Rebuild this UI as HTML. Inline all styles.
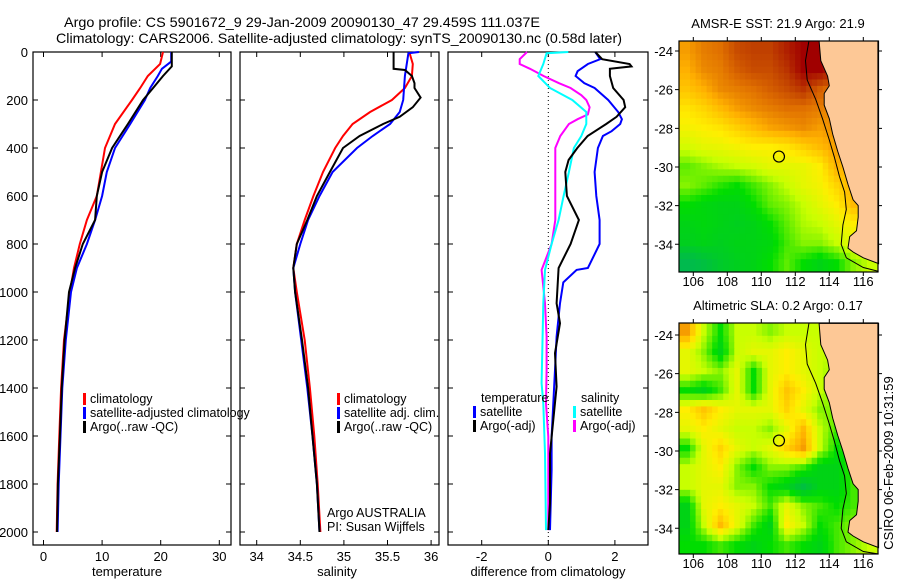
<!DOCTYPE html>
<html><head><meta charset="utf-8"><style>
html,body{margin:0;padding:0;background:#fff;}
svg{display:block;font-family:"Liberation Sans",sans-serif;}
</style></head><body>
<svg id="s" width="900" height="580" viewBox="0 0 900 580" xmlns="http://www.w3.org/2000/svg">
<text x="64" y="27" font-size="14" textLength="476" lengthAdjust="spacingAndGlyphs">Argo profile: CS 5901672_9 29-Jan-2009 20090130_47 29.459S 111.037E</text>
<text x="56" y="43" font-size="14" textLength="566" lengthAdjust="spacingAndGlyphs">Climatology: CARS2006. Satellite-adjusted climatology: synTS_20090130.nc (0.58d later)</text>
</svg>
<script>
// ---------- DATA ----------
const depthTop=[0,50,100,150,200,300,400,500,600,700,800,900,1000,1200,1400,1600,1800,2000];
const tempClim=[20.4,19.9,17.8,16.5,15.1,12.2,10.5,9.8,9.1,7.4,6.2,5.2,4.5,3.5,3.0,2.7,2.4,2.25];
const depthTB=[0,60,100,150,200,300,400,500,600,700,800,900,1000,1200,1400,1600,1800,2000];
const tempArgo=[21.9,21.9,20.4,18.7,17.0,14.4,11.7,10.0,9.1,8.8,6.7,5.4,4.35,3.6,3.1,2.8,2.45,2.3];
const depthTS=[0,40,70,100,150,200,300,400,500,600,700,800,900,1000,1200,1400,1600,1800,2000];
const tempSat=[21.8,21.8,20.2,19.5,18.2,17.3,14.8,12.2,10.8,10.0,8.8,7.4,5.7,4.7,3.8,3.2,2.9,2.6,2.4];

const depthSR=[0,50,100,150,200,250,300,350,400,500,600,700,800,900,1000,1200,1400,1600,1800,2000];
const salClim=[35.75,35.79,35.78,35.70,35.55,35.30,35.10,34.99,34.90,34.76,34.65,34.55,34.46,34.42,34.46,34.55,34.61,34.66,34.70,34.73];
const depthSB=[0,70,75,100,130,150,190,230,270,300,350,400,500,600,700,800,900,1000,1200,1400,1600,1800,2000];
const salArgo=[35.57,35.57,35.70,35.78,35.81,35.81,35.88,35.79,35.64,35.45,35.18,34.99,34.84,34.69,34.58,34.46,34.42,34.44,34.52,34.59,34.64,34.69,34.72];
const depthSS=[0,5,100,200,250,300,350,400,500,600,700,800,900,1000,1200,1400,1600,1800,2000];
const salSat=[35.86,35.74,35.70,35.68,35.64,35.53,35.33,35.15,34.87,34.72,34.59,34.50,34.42,34.44,34.51,34.58,34.64,34.69,34.72];

const depthDM=[0,30,50,70,100,130,150,180,200,230,260,280,300,350,400,500,600,700,800,908,1047,1186,1325,1464,1603,1992];
const diffSalArgo=[-0.64,-0.86,-0.86,-0.55,-0.14,0.32,0.67,0.99,1.14,1.24,1.19,0.88,0.62,0.36,0.21,0.21,0.21,0.21,0.1,-0.2,-0.1,-0.05,-0.05,-0.07,0,0];
const depthDC=[0,5,50,100,150,200,250,300,350,400,500,600,700,800,908,1047,1380,1464,1672,1992];
const diffSalSat=[0.6,-0.05,-0.15,-0.3,0.05,0.72,1.14,1.14,0.99,0.77,0.62,0.46,0.31,0.1,-0.1,-0.15,-0.2,-0.15,-0.1,-0.07];
const depthDB=[0,30,50,80,100,130,150,200,250,280,300,330,350,400,500,600,700,800,900,908,960,1047,1186,1325,1464,1603,1742,1992];
const diffTempSat=[1.41,1.56,1.19,0.88,0.82,1.08,1.39,1.8,2.1,2.21,2.16,1.9,1.64,1.49,1.39,1.44,1.54,1.54,1.19,0.85,0.45,0.35,0.25,0.2,0.15,0.1,0.1,0.05];
const depthDK=[0,30,50,60,70,100,150,200,230,270,300,350,400,450,500,600,700,800,900,1047,1130,1255,1394,1533,1672,1881,1992];
const diffTempArgo=[1.41,1.62,2.44,2.5,1.85,1.85,1.95,2.26,2.31,2.05,1.74,1.18,0.87,0.61,0.51,0.56,0.92,0.67,0.31,0.25,0.35,0.2,0.25,0.15,0.05,0.05,0];

const sstGrid=[
[0.75,0.8,0.82,0.88,0.9,0.9,0.95,1,1,1,1,1],
[0.72,0.78,0.8,0.85,0.88,0.88,0.92,1,1,0.95,0.9,0.9],
[0.68,0.72,0.78,0.8,0.82,0.85,0.88,0.92,0.85,0.8,0.8,0.8],
[0.62,0.65,0.7,0.75,0.78,0.8,0.82,0.82,0.8,0.78,0.78,0.78],
[0.58,0.6,0.62,0.66,0.7,0.74,0.76,0.78,0.75,0.78,0.78,0.78],
[0.52,0.55,0.56,0.58,0.6,0.6,0.62,0.66,0.7,0.75,0.75,0.75],
[0.42,0.45,0.48,0.5,0.52,0.55,0.55,0.56,0.6,0.72,0.7,0.7],
[0.45,0.42,0.38,0.35,0.4,0.45,0.5,0.55,0.58,0.65,0.72,0.72],
[0.35,0.32,0.3,0.3,0.35,0.42,0.45,0.5,0.55,0.6,0.7,0.7],
[0.3,0.32,0.3,0.28,0.3,0.35,0.42,0.48,0.5,0.55,0.6,0.6],
[0.28,0.3,0.28,0.3,0.3,0.32,0.4,0.45,0.45,0.5,0.55,0.55],
[0.15,0.2,0.25,0.28,0.3,0.35,0.42,0.35,0.3,0.35,0.45,0.5]];
const slaGrid=[
[0.75,0.5,0.35,0.5,0.5,0.45,0.5,0.5,0.5,0.5,0.5,0.5],
[0.55,0.45,0.3,0.5,0.55,0.55,0.6,0.55,0.5,0.5,0.45,0.45],
[0.55,0.5,0.45,0.55,0.35,0.55,0.6,0.55,0.5,0.45,0.45,0.45],
[0.35,0.3,0.4,0.55,0.35,0.55,0.68,0.6,0.5,0.45,0.45,0.45],
[0.6,0.68,0.6,0.55,0.55,0.55,0.65,0.55,0.45,0.45,0.45,0.45],
[0.55,0.6,0.55,0.5,0.5,0.45,0.55,0.7,0.5,0.4,0.45,0.45],
[0.35,0.55,0.65,0.55,0.5,0.55,0.65,0.75,0.5,0.35,0.4,0.4],
[0.5,0.55,0.6,0.45,0.35,0.45,0.45,0.4,0.3,0.3,0.4,0.4],
[0.5,0.55,0.55,0.45,0.45,0.35,0.3,0.2,0.3,0.3,0.4,0.4],
[0.3,0.55,0.6,0.55,0.5,0.4,0.55,0.45,0.4,0.35,0.4,0.4],
[0.3,0.5,0.7,0.55,0.4,0.3,0.6,0.5,0.35,0.4,0.45,0.45],
[0.35,0.35,0.4,0.35,0.3,0.35,0.4,0.35,0.3,0.4,0.45,0.5]];
const landLon=[113.4,113.5,113.9,114.0,113.7,113.7,114.0,114.2,114.5,114.8,115.1,115.4,115.7,115.7,115.6,115.2,115.1,115.4,116.0,116.9,116.9];
const landLat=[-23.4,-24.5,-25.3,-25.8,-26.2,-26.8,-27.5,-28.3,-29.2,-30.0,-30.9,-31.7,-32.0,-32.6,-33.3,-33.6,-34.2,-34.4,-34.7,-35.0,-23.4];
const shelfLon=[112.8,112.6,112.7,113.2,113.6,114.0,114.3,114.6,114.9,115.0,114.8,114.7,115.0,116.0,116.9];
const shelfLat=[-23.4,-24.5,-25.5,-26.5,-27.5,-28.6,-29.5,-30.5,-31.3,-32.2,-33.0,-34.0,-34.7,-35.2,-35.4];
const floatLon=111.04, floatLat=-29.46;
const depthTicks=[0,200,400,600,800,1000,1200,1400,1600,1800,2000];
const tempTicks=[0,10,20,30];
const salTicks=[34,34.5,35,35.5,36];
const diffTicks=[-2,0,2];
const lonTicks=[106,108,110,112,114,116];
const latTicks=[-24,-26,-28,-30,-32,-34];

// ---------- DRAWING ----------
const S=document.getElementById('s');const NS='http://www.w3.org/2000/svg';
function mk(tag,at,txt){const e=document.createElementNS(NS,tag);for(const k in at)e.setAttribute(k,at[k]);if(txt!==undefined)e.textContent=txt;S.appendChild(e);return e;}
const yD=d=>52+d*0.24;
const panels=[
 {x0:33,x1:231,name:'temperature',fx:v=>43.5+v*5.86,ticks:tempTicks,lab:'temperature',labx:127},
 {x0:240,x1:439,name:'salinity',fx:v=>256.7+(v-34)*87.2,ticks:salTicks,lab:'salinity',labx:337},
 {x0:448,x1:648,name:'difference',fx:v=>548.3+v*33.3,ticks:diffTicks,lab:'difference from climatology',labx:548}
];
panels.forEach((p,i)=>{
 const r=mk('rect',{x:p.x0,y:52,width:p.x1-p.x0,height:493,fill:'none',stroke:'#000','stroke-width':1.2});
 
 
 depthTicks.forEach(d=>{
  const y=yD(d);
  const t=mk('path',{d:`M${p.x0},${y}h5M${p.x1},${y}h-5`,stroke:'#000','stroke-width':1});
  
  
  if(i===0){const l=mk('text',{x:28,y:y+5,'font-size':13,'text-anchor':'end'},String(d));
   
   }
 });
 p.ticks.forEach(v=>{
  const x=p.fx(v);
  const t=mk('path',{d:`M${x},52v5M${x},545v-5`,stroke:'#000','stroke-width':1});
  
  
  const l=mk('text',{x:x,y:561,'font-size':13,'text-anchor':'middle'},String(v));
  
  
 });
 const al=mk('text',{x:p.labx,y:576,'font-size':13,'text-anchor':'middle'},p.lab);
 
 
});
const zl=mk('line',{x1:548.3,y1:52,x2:548.3,y2:545,stroke:'#000','stroke-width':1,'stroke-dasharray':'1,3'});



function series(p,depths,vals,color,name){
 const pts=depths.map((d,i)=>p.fx(vals[i]).toFixed(1)+','+yD(d).toFixed(1)).join(' ');
 const e=mk('polyline',{points:pts,fill:'none',stroke:color,'stroke-width':2});
 
 
}
series(panels[0],depthTop,tempClim,'#f00','temperature-climatology-line');
series(panels[0],depthTS,tempSat,'#00f','temperature-satellite-line');
series(panels[0],depthTB,tempArgo,'#000','temperature-argo-line');
series(panels[1],depthSR,salClim,'#f00','salinity-climatology-line');
series(panels[1],depthSS,salSat,'#00f','salinity-satellite-line');
series(panels[1],depthSB,salArgo,'#000','salinity-argo-line');
series(panels[2],depthDM,diffSalArgo,'#f0f','diff-salinity-argo-line');
series(panels[2],depthDC,diffSalSat,'#0ff','diff-salinity-satellite-line');
series(panels[2],depthDB,diffTempSat,'#00f','diff-temperature-satellite-line');
series(panels[2],depthDK,diffTempArgo,'#000','diff-temperature-argo-line');

function legend(x,y,color,txt,name){
 const m=mk('rect',{x:x,y:y-10,width:3,height:12,fill:color});
 
 
 if(txt){const t=mk('text',{x:x+7,y:y,'font-size':12.5},txt);
 
 }
}
legend(83,403,'#f00','climatology','legend-climatology');
legend(83,417,'#00f','satellite-adjusted climatology','legend-satellite-adjusted');
legend(83,431,'#000','Argo(..raw -QC)','legend-argo');
legend(337,403,'#f00','climatology','legend2-climatology');
legend(337,417,'#00f','satellite adj. clim.','legend2-satellite');
legend(337,431,'#000','Argo(..raw -QC)','legend2-argo');
let t1=mk('text',{x:481,y:402,'font-size':12.5},'temperature');


let t2=mk('text',{x:581,y:402,'font-size':12.5},'salinity');


legend(473,416,'#00f','satellite','legend3-temp-satellite');
legend(473,430,'#000','Argo(-adj)','legend3-temp-argo');
legend(573,416,'#0ff','satellite','legend3-sal-satellite');
legend(573,430,'#f0f','Argo(-adj)','legend3-sal-argo');
let a1=mk('text',{x:327,y:517,'font-size':12.5},'Argo AUSTRALIA');


let a2=mk('text',{x:327,y:531,'font-size':12.5},'PI: Susan Wijffels');



// ---------- MAPS ----------
const stops=[[0,[0,168,120]],[0.2,[0,192,64]],[0.35,[0,221,0]],[0.5,[200,255,0]],[0.6,[255,238,0]],[0.72,[255,176,0]],[0.82,[224,112,0]],[0.9,[192,64,0]],[1,[160,0,0]]];
function cmap(v){for(let i=1;i<stops.length;i++){if(v<=stops[i][0]){const a=stops[i-1],b=stops[i],f=(v-a[0])/(b[0]-a[0]);
 return 'rgb('+a[1].map((c,k)=>Math.round(c+(b[1][k]-c)*f)).join(',')+')';}}return 'rgb(160,0,0)';}
function sample(grid,fr,fc){
 const R=grid.length-1,C=grid[0].length-1;
 fr=Math.max(0,Math.min(R,fr));fc=Math.max(0,Math.min(C,fc));
 const r0=Math.floor(fr),c0=Math.floor(fc),r1=Math.min(R,r0+1),c1=Math.min(C,c0+1),a=fr-r0,b=fc-c0;
 return grid[r0][c0]*(1-a)*(1-b)+grid[r0][c1]*(1-a)*b+grid[r1][c0]*a*(1-b)+grid[r1][c1]*a*b;
}
function map(y0,grid,title,name){
 const x0=679,x1=878,h=231;
 const fx=lon=>693.3+(lon-106)*17;
 const fy=lat=>y0+10+(-24-lat)*19.33+(y0===41?0:2);
 const up=3,rows=grid.length*up,cols=grid[0].length*up,cw=(x1-x0)/cols,ch=h/rows;
 for(let r=0;r<rows;r++)for(let c=0;c<cols;c++){
  const v=sample(grid,(r+0.5)/up-0.5,(c+0.5)/up-0.5);
  const e=mk('rect',{x:(x0+c*cw).toFixed(2),y:(y0+r*ch).toFixed(2),width:(cw+0.5).toFixed(2),height:(ch+0.5).toFixed(2),fill:cmap(v)});
  
  
 }
 const land=mk('polygon',{points:landLon.map((l,i)=>fx(l).toFixed(1)+','+Math.max(y0,Math.min(y0+h,fy(landLat[i]))).toFixed(1)).join(' '),fill:'#fdc896',stroke:'#000','stroke-width':1});
 
 
 const sh=mk('polyline',{points:shelfLon.map((l,i)=>fx(l).toFixed(1)+','+Math.max(y0,Math.min(y0+h,fy(shelfLat[i]))).toFixed(1)).join(' '),fill:'none',stroke:'#000','stroke-width':1});
 
 
 const fr=mk('rect',{x:x0,y:y0,width:x1-x0,height:h,fill:'none',stroke:'#000','stroke-width':1.2});
 
 
 lonTicks.forEach(l=>{const x=fx(l);
  const t=mk('path',{d:`M${x},${y0}v-4M${x},${y0+h}v4`,stroke:'#000'});
  
  
  const lb=mk('text',{x:x,y:y0+h+14,'font-size':13,'text-anchor':'middle'},String(l));
  
  });
 latTicks.forEach(l=>{const y=fy(l);
  const t=mk('path',{d:`M${x0},${y}h-4M${x1},${y}h4`,stroke:'#000'});
  
  
  const lb=mk('text',{x:673,y:y+5,'font-size':13,'text-anchor':'end'},String(l));
  
  });
 const c=mk('circle',{cx:fx(floatLon),cy:fy(floatLat),r:5.5,fill:'none',stroke:'#000','stroke-width':1.2});
 
 
 const tt=mk('text',{x:778,y:y0-13,'font-size':13,'text-anchor':'middle'},title);
 
 
}
map(41,sstGrid,'AMSR-E SST: 21.9 Argo: 21.9','sst-map');
map(323,slaGrid,'Altimetric SLA: 0.2 Argo: 0.17','sla-map');
const cs=mk('text',{x:0,y:0,'font-size':13,'text-anchor':'middle',transform:'translate(893,463) rotate(-90)'},'CSIRO 06-Feb-2009 10:31:59');


</script>
</body></html>
